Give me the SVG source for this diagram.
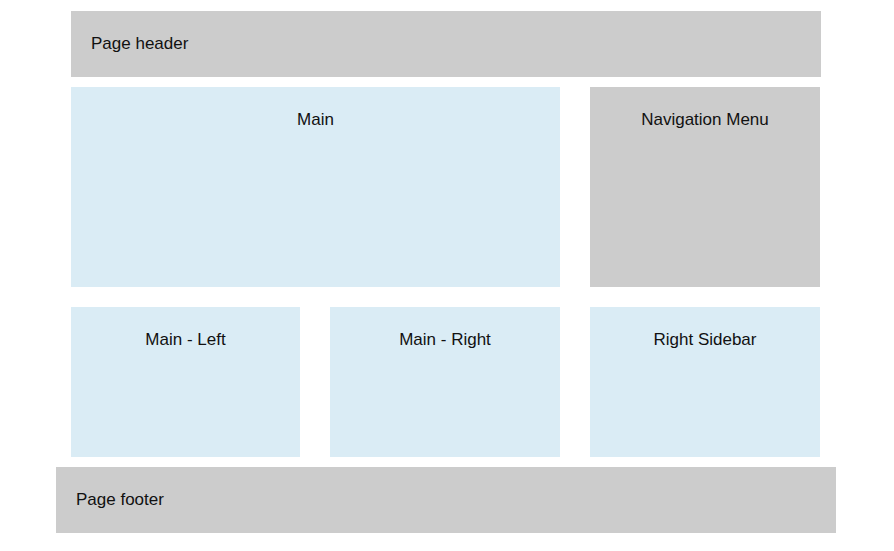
<svg xmlns="http://www.w3.org/2000/svg" width="894" height="551" viewBox="0 0 894 551">
<style>
.g{fill:#cccccc}
.b{fill:#daecf5}
text{font-family:"Liberation Sans",Arial,sans-serif;font-size:17px;fill:#111}
.c{text-anchor:middle}
</style>
<rect width="894" height="551" fill="#fff"/>
<g id="header"><rect class="g" x="71" y="11" width="750" height="66"/><text x="91" y="49">Page header</text></g>
<g id="main"><rect class="b" x="71" y="87" width="489" height="200"/><text class="c" x="315.5" y="125">Main</text></g>
<g id="nav"><rect class="g" x="590" y="87" width="230" height="200"/><text class="c" x="705" y="125">Navigation Menu</text></g>
<g id="main-left"><rect class="b" x="71" y="307" width="229" height="150"/><text class="c" x="185.5" y="345">Main - Left</text></g>
<g id="main-right"><rect class="b" x="330" y="307" width="230" height="150"/><text class="c" x="445" y="345">Main - Right</text></g>
<g id="sidebar"><rect class="b" x="590" y="307" width="230" height="150"/><text class="c" x="705" y="345">Right Sidebar</text></g>
<g id="footer"><rect class="g" x="56" y="467" width="780" height="66"/><text x="76" y="505">Page footer</text></g>
<g id="connectors"/>
</svg>
